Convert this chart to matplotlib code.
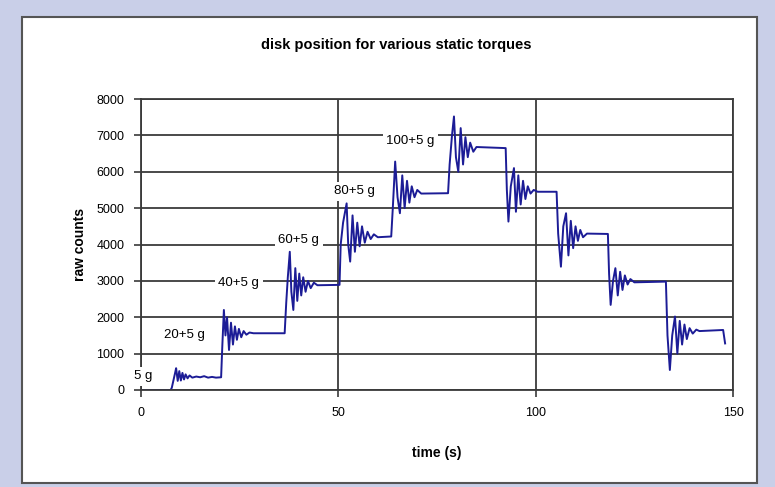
import matplotlib.pyplot as plt
from matplotlib.patches import Rectangle

# trace: time (s) and raw counts
time_s = [0, 7.5, 7.8, 8.2, 8.6, 8.9, 9.3, 9.7, 10.1, 10.5, 10.9, 11.3, 11.8, 12.3, 13, 14, 15, 16, 17, 18, 19, 20.3,
          20.6, 21.0, 21.4, 21.8, 22.3, 22.8, 23.3, 23.8, 24.3, 24.8, 25.4, 26, 26.7, 27.5, 28.5, 36.4,
          36.8, 37.2, 37.7, 38.1, 38.6, 39.1, 39.6, 40.1, 40.6, 41.1, 41.7, 42.3, 43, 43.8, 44.7, 50.3,
          50.6, 51.2, 52.1, 52.5, 53, 53.6, 54.2, 54.8, 55.4, 56, 56.7, 57.4, 58.2, 59, 60, 63.4,
          63.8, 64.4, 65, 65.6, 66.2, 66.8, 67.4, 68, 68.6, 69.3, 70, 71, 77.8,
          78.2, 78.8, 79.3, 79.8, 80.4, 81, 81.6, 82.2, 82.8, 83.4, 84.2, 85, 92.4,
          92.7, 93.1, 93.7, 94.5, 95, 95.6, 96.2, 96.8, 97.4, 98, 98.7, 99.5, 100.5, 105.3,
          105.7, 106.4, 107, 107.7, 108.3, 108.9, 109.5, 110.1, 110.7, 111.3, 112, 113, 118.3,
          118.6, 119, 119.6, 120.2, 120.8, 121.4, 122, 122.6, 123.3, 124, 125, 133,
          133.4, 134, 134.6, 135.3, 135.9, 136.5, 137.1, 137.7, 138.3, 139, 139.8, 140.7, 141.5, 147.5, 148]
raw_counts = [0, 0, 60, 250, 450, 600, 250, 520, 260, 470, 290, 430, 320, 400, 340, 370, 350, 380, 340, 360, 340, 350,
              1200, 2200, 1500, 2000, 1100, 1850, 1250, 1750, 1380, 1680, 1450, 1620, 1520, 1580, 1560, 1560,
              2400, 3100, 3800, 2700, 2200, 3350, 2450, 3200, 2600, 3100, 2700, 3000, 2800, 2950, 2880, 2890,
              4000, 4600, 5130, 4000, 3530, 4800, 3800, 4600, 3950, 4500, 4050, 4350, 4150, 4280, 4200, 4220,
              5000, 6280, 5300, 4860, 5900, 5000, 5750, 5150, 5600, 5300, 5500, 5400, 5410,
              6200, 7000, 7520, 6400, 6000, 7200, 6200, 6950, 6400, 6800, 6550, 6680, 6650,
              5500, 4630, 5600, 6100, 4900, 5900, 5100, 5750, 5250, 5600, 5400, 5500, 5450, 5450,
              4300, 3390, 4500, 4860, 3700, 4650, 3900, 4500, 4100, 4400, 4200, 4300, 4290,
              3200, 2340, 3000, 3350, 2600, 3250, 2750, 3150, 2900, 3050, 2960, 2980,
              1500, 550, 1500, 2020, 1000, 1900, 1250, 1800, 1400, 1700, 1550, 1660, 1620, 1650, 1280]

mass_labels = ["5 g", "20+5 g", "40+5 g", "60+5 g", "80+5 g", "100+5 g"]
label_t = [0.5, 11.1, 24.8, 40.0, 54.0, 68.2]
label_y = [380, 1510, 2930, 4125, 5460, 6850]

plt.rcParams['font.family'] = ['Liberation Sans', 'DejaVu Sans']

fig = plt.figure(figsize=(7.75, 4.87), dpi=100)
fig.patch.set_facecolor('#c9cfe8')
box = Rectangle((22 / 775, 4 / 487), 735 / 775, 466 / 487, transform=fig.transFigure,
                facecolor='white', edgecolor='#555555', linewidth=1.5, zorder=-1)
fig.add_artist(box)

ax = fig.add_axes([141 / 775, 97 / 487, 592 / 775, 291 / 487])
ax.set_facecolor('white')
ax.plot(time_s, raw_counts, color='#1c1c96', linewidth=1.4, zorder=2)

ax.set_xlim(0, 150)
ax.set_ylim(0, 8000)
ax.set_xticks([0, 50, 100, 150])
ax.set_yticks(range(0, 8001, 1000))
ax.grid(True, color='#3a3a3a', linewidth=1.3)
for s in ax.spines.values():
    s.set_color('#3a3a3a')
    s.set_linewidth(1.3)
ax.tick_params(length=5, width=1.2, color='#3a3a3a', labelsize=9, pad=7)

for txt, t, y in zip(mass_labels, label_t, label_y):
    ax.text(t, y, txt, fontsize=9.5, ha='center', va='center', zorder=3, clip_on=False,
            bbox=dict(facecolor='white', edgecolor='none', pad=2.5))

fig.text(396 / 775, 1 - 45 / 487, 'disk position for various static torques', fontsize=10.5,
         fontweight='bold', ha='center', va='center')
ax.set_xlabel('time (s)', fontsize=10, fontweight='bold', labelpad=20)
ax.set_ylabel('raw counts', fontsize=10, fontweight='bold')
ax.yaxis.set_label_coords(-0.092, 0.5)

fig.savefig('out.png', dpi=100, facecolor=fig.get_facecolor())
